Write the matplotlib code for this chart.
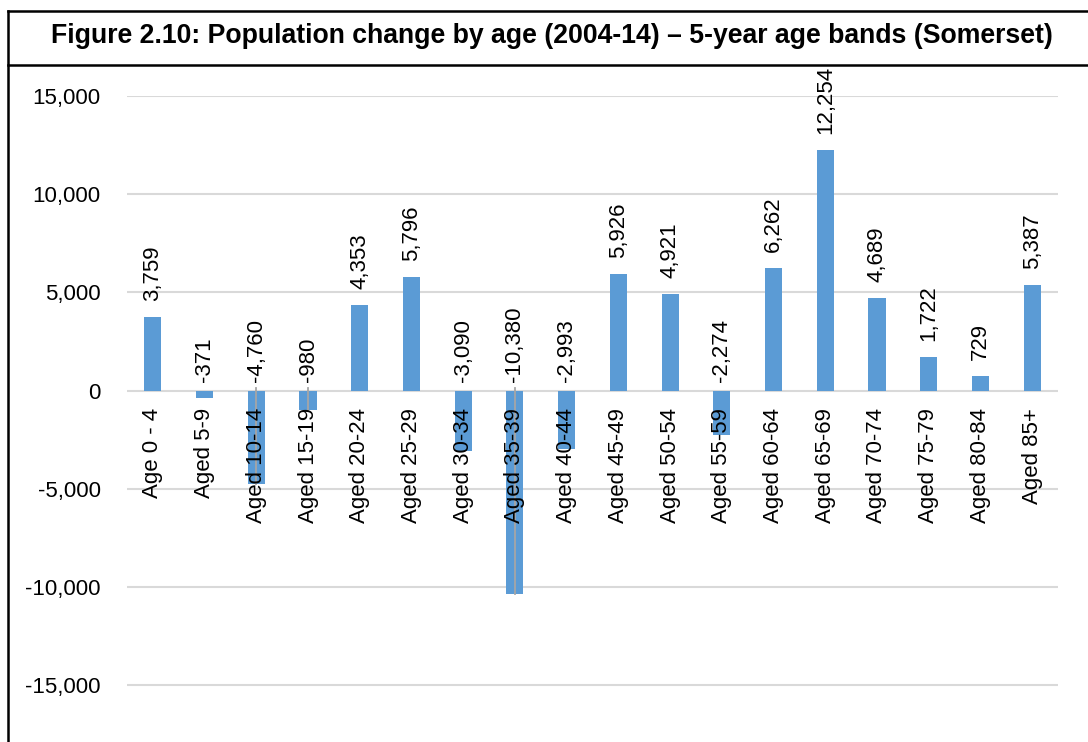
import numpy as np
import matplotlib.pyplot as plt
from matplotlib.lines import Line2D

# --- data ---
age_bands = ["Age 0 - 4", "Aged 5-9", "Aged 10-14", "Aged 15-19", "Aged 20-24",
             "Aged 25-29", "Aged 30-34", "Aged 35-39", "Aged 40-44", "Aged 45-49",
             "Aged 50-54", "Aged 55-59", "Aged 60-64", "Aged 65-69", "Aged 70-74",
             "Aged 75-79", "Aged 80-84", "Aged 85+"]
change = [3759, -371, -4760, -980, 4353, 5796, -3090, -10380, -2993, 5926,
          4921, -2274, 6262, 12254, 4689, 1722, 729, 5387]
marked = ["Aged 10-14", "Aged 15-19", "Aged 35-39"]  # bars with a grey centre line
y_ticks = [-15000, -10000, -5000, 0, 5000, 10000, 15000]

title = "Figure 2.10: Population change by age (2004-14) \u2013 5-year age bands (Somerset)"

plt.rcParams['font.family'] = ['Liberation Sans', 'DejaVu Sans']

BLUE = "#5B9BD5"
FS = 16
W, H = 1088, 742
fig = plt.figure(figsize=(W / 100, H / 100), dpi=100)
ax = fig.add_axes([127 / W, 0, (1058 - 127) / W, 1 - 96 / H])

x = np.arange(len(age_bands))
ax.bar(x, change, width=0.33, color=BLUE, zorder=2)

for i, (lab, v) in enumerate(zip(age_bands, change)):
    if lab in marked:
        ax.plot([i, i], [150, v], color="#A6A6A6", lw=1.3, zorder=3)

ax.set_xlim(-0.5, len(age_bands) - 0.5)
ax.set_ylim(-17900, 15000)
ax.set_yticks(y_ticks)
ax.set_yticklabels([f"{t:,}" for t in y_ticks])
ax.tick_params(axis="y", length=0, pad=19, labelsize=FS)
ax.set_xticks([])
ax.grid(axis="y", color="#D9D9D9", lw=1.5, zorder=0)
ax.set_axisbelow(True)
for s in ax.spines.values():
    s.set_visible(False)

# data labels
for i, v in enumerate(change):
    if v >= 0:
        ax.annotate(f"{v:,}", (i, v), xytext=(0, 11.5), textcoords="offset points",
                    rotation=90, ha="center", va="bottom", fontsize=FS,
                    annotation_clip=False)
    else:
        ax.annotate(f"{v:,}", (i, 0), xytext=(0, 6.5), textcoords="offset points",
                    rotation=90, ha="center", va="bottom", fontsize=FS,
                    annotation_clip=False)

# category labels just under the zero line
for i, lab in enumerate(age_bands):
    ax.annotate(lab, (i, 0), xytext=(0, -12.5), textcoords="offset points",
                rotation=90, ha="center", va="top", fontsize=FS, zorder=4)

# title box and frame
fig.text(552 / W, 1 - 43 / H, title, ha="center", va="baseline",
         fontsize=19.2, fontweight="bold")
lw = 1.8
fig.add_artist(Line2D([8 / W, 8 / W], [0, 1 - 11 / H], color="black", lw=lw))
fig.add_artist(Line2D([8 / W, 1], [1 - 11 / H, 1 - 11 / H], color="black", lw=lw))
fig.add_artist(Line2D([8 / W, 1], [1 - 65 / H, 1 - 65 / H], color="black", lw=lw))

fig.savefig("out.png", dpi=100)
